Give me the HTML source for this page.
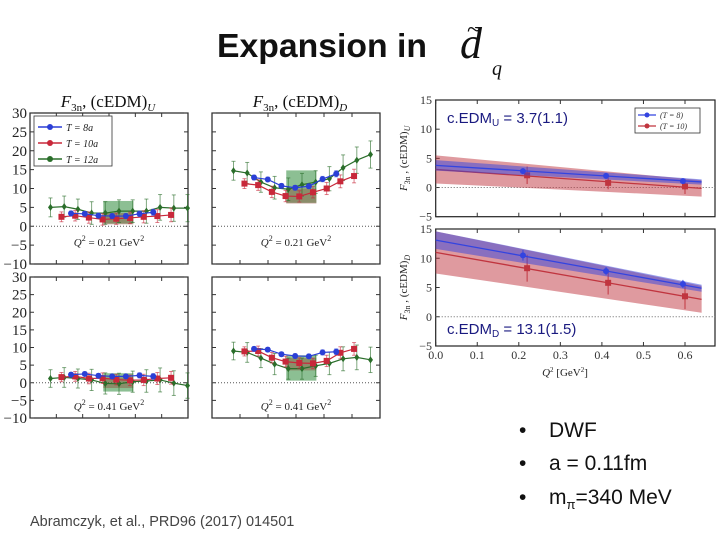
<!DOCTYPE html>
<html><head><meta charset="utf-8"><style>
html,body{margin:0;padding:0;background:#fff;}
svg{display:block;font-family:"Liberation Serif",serif;}
</style></head><body>
<svg id="s" width="720" height="540" viewBox="0 0 720 540" xmlns="http://www.w3.org/2000/svg">
<text x="217" y="57" font-family="Liberation Sans, sans-serif" font-weight="bold" font-size="33" textLength="210" lengthAdjust="spacingAndGlyphs" fill="#111">Expansion in</text>
<text x="460" y="58" font-style="italic" font-size="44" fill="#111">d</text>
<text x="467" y="38" font-size="26" fill="#111">~</text>
<text x="492" y="75" font-style="italic" font-size="20" fill="#111">q</text>
<g id="left"></g><g id="right"></g>
<g font-family="Liberation Sans, sans-serif" font-size="21" fill="#111">
<text x="519" y="437">•<tspan x="549">DWF</tspan></text>
<text x="519" y="470">•<tspan x="549">a = 0.11fm</tspan></text>
<text x="519" y="504">•<tspan x="549">m</tspan><tspan font-size="13" dy="5">π</tspan><tspan dy="-5">=340 MeV</tspan></text>
</g>
<text x="30" y="526" font-family="Liberation Sans, sans-serif" font-size="14.5" fill="#444">Abramczyk, et al., PRD96 (2017) 014501</text>
</svg>
<script>
const NS="http://www.w3.org/2000/svg";
function mk(p,t,a){const e=document.createElementNS(NS,t);for(const k in a)e.setAttribute(k,a[k]);p.appendChild(e);return e;}
// ---- left plateau data ----
const greenTL=[5,5.2,4.5,3.5,3.5,4,4,4,5,4.8,4.8];
const redTL=[2.5,2.8,2.3,1.8,2.0,2.2,2.5,2.7,3.0];
const blueTL=[3.4,3.3,2.8,2.7,2.7,3.3,3.7];
const greenTR=[14.7,14.1,11.7,10.2,9.8,11,11.7,12.6,15.5,17.5,19];
const redTR=[11.3,10.9,9.1,8,7.9,9,10,11.9,13.3];
const blueTR=[12.9,12.4,10.7,10.2,10.6,12.5,13.9];
const greenBL=[1.2,1.5,1.2,0.8,-0.2,-0.3,0.3,0.5,0.8,-0.1,-0.8];
const redBL=[1.6,1.8,1.2,1.3,0.9,0.7,0.8,1.2,1.4];
const blueBL=[2.3,2.5,2,1.8,1.8,2.1,1.8];
const greenBR=[9,8.6,7,5.3,4,4,4.8,5.5,6.8,7.2,6.5];
const redBR=[8.9,9,7.1,6,5.6,5.5,6.2,8.5,9.6];
const blueBR=[9.6,9.4,8.1,7.6,7.5,8.6,8.8];
const greenErr=[2.5,2.8,2.7,3,3,3,3,3.2,3.4,3.5,3.6];
const redErr=[1.3,1.4,1.5,1.5,1.5,1.5,1.6,1.7,1.8];
const blueErr=[0.6,0.6,0.6,0.6,0.6,0.7,0.8];
const boxTL=[0.7,6.7,0.5,3.5], boxTR=[6.2,14.8,6,10], boxBL=[-2.5,2.7,-1.5,1.5], boxBR=[0.6,7.8,3.5,7];
const yTicks=[30,25,20,15,10,5,0,-5,-10];
const L=document.getElementById('left');
function plateau(x0,x1,xc,y0,y1,G,R,B,box,q,yl){
  const X=u=>xc+u*13.7;
  const Yv=v=>y0+(30-v)*(y1-y0)/40;
  const g=mk(L,'g',{});
  
  
  mk(g,'rect',{x:x0,y:y0,width:x1-x0,height:y1-y0,fill:'#fff',stroke:'#222','stroke-width':1.2});
  for(let i=0;i<5;i++){const tx=x0+(x1-x0)*(i+1)/6;mk(g,'line',{x1:tx,x2:tx,y1:y0,y2:y0+4,stroke:'#333'});mk(g,'line',{x1:tx,x2:tx,y1:y1,y2:y1-4,stroke:'#333'});}
  yTicks.forEach(v=>{const y=Yv(v);mk(g,'line',{x1:x0,x2:x0+4,y1:y,y2:y,stroke:'#333'});mk(g,'line',{x1:x1,x2:x1-4,y1:y,y2:y,stroke:'#333'});
    if(yl){const t=mk(g,'text',{x:x0-3,y:y+5,'text-anchor':'end','font-size':15,fill:'#222'});t.textContent=v<0?'−'+(-v):v;}});
  mk(g,'line',{x1:x0,x2:x1,y1:Yv(0),y2:Yv(0),stroke:'#555','stroke-dasharray':'1,2'});
  const bl=X(-1.15),bw=X(1.05)-bl;
  mk(g,'rect',{x:bl,y:Yv(box[1]),width:bw,height:Yv(box[0])-Yv(box[1]),fill:'#2e8b3a','fill-opacity':0.55});
  mk(g,'rect',{x:bl,y:Yv(box[3]),width:bw,height:Yv(box[2])-Yv(box[3]),fill:'#8a3020','fill-opacity':0.35});
  function series(vals,errs,start,col,shape){
    const pts=vals.map((v,i)=>[X(start+i),Yv(v)]);
    mk(g,'polyline',{points:pts.map(p=>p.join(',')).join(' '),fill:'none',stroke:col,'stroke-width':1.2});
    pts.forEach((p,i)=>{const e=errs[i]*(y1-y0)/40;
      mk(g,'line',{x1:p[0],x2:p[0],y1:p[1]-e,y2:p[1]+e,stroke:col,'stroke-opacity':0.6});
      mk(g,'line',{x1:p[0]-2,x2:p[0]+2,y1:p[1]-e,y2:p[1]-e,stroke:col,'stroke-opacity':0.6});
      mk(g,'line',{x1:p[0]-2,x2:p[0]+2,y1:p[1]+e,y2:p[1]+e,stroke:col,'stroke-opacity':0.6});
      let m;
      if(shape==='c')m=mk(g,'circle',{cx:p[0],cy:p[1],r:3,fill:col});
      else if(shape==='s')m=mk(g,'rect',{x:p[0]-3,y:p[1]-3,width:6,height:6,fill:col});
      else m=mk(g,'path',{d:`M${p[0]},${p[1]-3.5}L${p[0]+2.5},${p[1]}L${p[0]},${p[1]+3.5}L${p[0]-2.5},${p[1]}Z`,fill:col});
      
      
    });
  }
  series(G,greenErr,-5,'#2a6e2a','d');
  series(R,redErr,-4.2,'#c8283a','s');
  series(B,blueErr,-3.5,'#2b3fd6','c');
  const t=mk(g,'text',{x:(x0+x1)/2,y:q,'text-anchor':'middle','font-size':11,fill:'#222'});
  
  
  t.innerHTML=(y0>200?'<tspan font-style="italic">Q</tspan><tspan font-size="8" dy="-5">2</tspan><tspan dy="5"> = 0.41 GeV</tspan><tspan font-size="8" dy="-5">2</tspan>':'<tspan font-style="italic">Q</tspan><tspan font-size="8" dy="-5">2</tspan><tspan dy="5"> = 0.21 GeV</tspan><tspan font-size="8" dy="-5">2</tspan>');
}
plateau(30,188,119,113,264,greenTL,redTL,blueTL,boxTL,246,true);
plateau(212,380,302,113,264,greenTR,redTR,blueTR,boxTR,246,false);
plateau(30,188,119,277,418,greenBL,redBL,blueBL,boxBL,410,true);
plateau(212,380,302,277,418,greenBR,redBR,blueBR,boxBR,410,false);
[[108,'U'],[300,'D']].forEach(([x,s])=>{const t=mk(L,'text',{x:x,y:107,'text-anchor':'middle','font-size':17,fill:'#111'});


t.innerHTML='<tspan font-style="italic">F</tspan><tspan font-size="11" dy="4">3n</tspan><tspan dy="-4">, (cEDM)</tspan><tspan font-style="italic" font-size="11" dy="4">'+s+'</tspan>';});
const lg=mk(L,'g',{});


mk(lg,'rect',{x:34,y:116,width:78,height:50,fill:'#fff',stroke:'#333','stroke-width':0.8});
[['#2b3fd6','T = 8a',127],['#c8283a','T = 10a',143],['#2a6e2a','T = 12a',159]].forEach(([c,l,y])=>{
 mk(lg,'line',{x1:38,x2:62,y1:y,y2:y,stroke:c,'stroke-width':1.5});mk(lg,'circle',{cx:50,cy:y,r:3,fill:c});
 const t=mk(lg,'text',{x:66,y:y+4,'font-size':10,'font-style':'italic',fill:'#222'});t.textContent=l;});
// ---- right fits ----
const qU_blue=[0.21,0.41,0.595], vU_blue=[2.8,2.0,1.1], eU_blue=[0.5,0.5,0.4];
const qU_red=[0.22,0.415,0.6], vU_red=[2.1,0.8,0.2], eU_red=[1.5,1.1,1.3];
const qD_blue=[0.21,0.41,0.595], vD_blue=[10.5,7.8,5.6], eD_blue=[0.9,0.7,0.7];
const qD_red=[0.22,0.415,0.6], vD_red=[8.3,5.8,3.5], eD_red=[2.3,2.0,2.2];
const fitU_blue=[3.8,1.0], bandU_blue=[0.9,0.45], fitU_red=[3.1,-0.1], bandU_red=[2.4,1.4];
const fitD_blue=[13.1,5.0], bandD_blue=[1.5,0.6], fitD_red=[11,3.1], bandD_red=[3.6,2.3];
const xTicks=[0,0.1,0.2,0.3,0.4,0.5,0.6], rTicks=[15,10,5,0,-5];
const Rg=document.getElementById('right');
const QX=q=>435.7+q*415.5;
function fitPanel(y0,y1,data,lab){
  const Yv=v=>y0+(15-v)*(y1-y0)/20;
  const g=mk(Rg,'g',{});
  
  
  mk(g,'rect',{x:435.7,y:y0,width:715-435.7,height:y1-y0,fill:'#fff',stroke:'#222','stroke-width':1.2});
  rTicks.forEach(v=>{const y=Yv(v);mk(g,'line',{x1:435.7,x2:439.7,y1:y,y2:y,stroke:'#333'});
    const t=mk(g,'text',{x:432,y:y+4,'text-anchor':'end','font-size':12,fill:'#333'});t.textContent=v<0?'−'+(-v):v;});
  xTicks.forEach(v=>{mk(g,'line',{x1:QX(v),x2:QX(v),y1:y1,y2:y1-4,stroke:'#333'});mk(g,'line',{x1:QX(v),x2:QX(v),y1:y0,y2:y0+4,stroke:'#333'});});
  mk(g,'line',{x1:435.7,x2:715,y1:Yv(0),y2:Yv(0),stroke:'#666','stroke-dasharray':'1,2'});
  data.forEach(([fit,band,col,q,v,e,shape])=>{
    const qa=0,qb=0.64, ya=fit[0], yb=fit[0]+(fit[1]-fit[0])*qb/0.63;
    const ba=band[0], bb=band[1];
    const b=mk(g,'path',{d:`M${QX(qa)},${Yv(ya+ba)}L${QX(qb)},${Yv(yb+bb)}L${QX(qb)},${Yv(yb-bb)}L${QX(qa)},${Yv(ya-ba)}Z`,fill:col,'fill-opacity':0.5});
    
    
    mk(g,'line',{x1:QX(qa),y1:Yv(ya),x2:QX(qb),y2:Yv(yb),stroke:col,'stroke-width':1.3});
    q.forEach((qq,i)=>{const x=QX(qq),y=Yv(v[i]),ee=e[i]*(y1-y0)/20;
      mk(g,'line',{x1:x,x2:x,y1:y-ee,y2:y+ee,stroke:col});
      const m=shape==='c'?mk(g,'circle',{cx:x,cy:y,r:3,fill:col}):mk(g,'rect',{x:x-3,y:y-3,width:6,height:6,fill:col});
      
      });
  });
  const yl=mk(g,'text',{transform:`translate(407,${(y0+y1)/2}) rotate(-90)`,'text-anchor':'middle','font-size':11,fill:'#222'});
  yl.innerHTML='<tspan font-style="italic">F</tspan><tspan font-size="8" dy="3">3n</tspan><tspan dy="-3"> , (cEDM)</tspan><tspan font-style="italic" font-size="8" dy="3">'+lab+'</tspan>';
}
fitPanel(100,216.7,[[fitU_red,bandU_red,'#c0353f',qU_red,vU_red,eU_red,'s'],[fitU_blue,bandU_blue,'#3344e0',qU_blue,vU_blue,eU_blue,'c']],'U');
fitPanel(229,346,[[fitD_red,bandD_red,'#c0353f',qD_red,vD_red,eD_red,'s'],[fitD_blue,bandD_blue,'#3344e0',qD_blue,vD_blue,eD_blue,'c']],'D');
xTicks.forEach(v=>{const t=mk(Rg,'text',{x:QX(v),y:359,'text-anchor':'middle','font-size':12,fill:'#333'});t.textContent=v.toFixed(1);});
const xl=mk(Rg,'text',{x:565,y:376,'text-anchor':'middle','font-size':11,fill:'#222'});


xl.innerHTML='<tspan font-style="italic">Q</tspan><tspan font-size="7" dy="-4">2</tspan><tspan dy="4"> [GeV</tspan><tspan font-size="7" dy="-4">2</tspan><tspan dy="4">]</tspan>';
const rl=mk(Rg,'g',{});


mk(rl,'rect',{x:635,y:108,width:65,height:25,fill:'#fff',stroke:'#333','stroke-width':0.8});
[['#3344e0','(T = 8)',115],['#c0353f','(T = 10)',126]].forEach(([c,l,y])=>{mk(rl,'line',{x1:638,x2:656,y1:y,y2:y,stroke:c,'stroke-width':1.3});mk(rl,'circle',{cx:647,cy:y,r:2.5,fill:c});
 const t=mk(rl,'text',{x:660,y:y+3,'font-size':8,'font-style':'italic',fill:'#333'});t.textContent=l;});
[[447,123,'U','3.7(1.1)'],[447,334,'D','13.1(1.5)']].forEach(([x,y,s,v])=>{const t=mk(Rg,'text',{x:x,y:y,'font-family':'Liberation Sans, sans-serif','font-size':15,fill:'#1a1a80'});


t.innerHTML='c.EDM<tspan font-size="10" dy="3">'+s+'</tspan><tspan dy="-3"> = '+v+'</tspan>';});
</script>
</body></html>
